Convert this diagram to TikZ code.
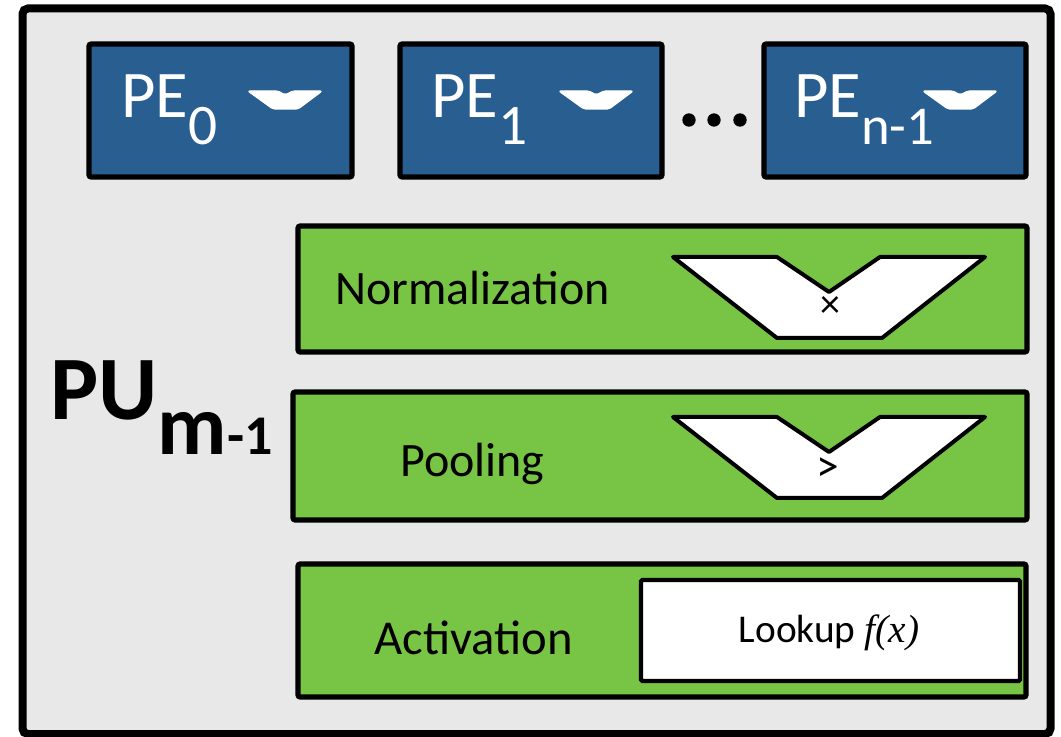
\documentclass[tikz,border=0pt]{standalone}
\usepackage{fontspec}
\setmainfont{Carlito}
\newfontfamily\fxfont{Liberation Serif}
\usetikzlibrary{fit}
\definecolor{peblue}{RGB}{41,94,145}
\definecolor{pugreen}{RGB}{120,196,69}
\definecolor{pugray}{RGB}{232,232,232}
\tikzset{
  outerbox/.style={draw=black, line width=6pt, fill=pugray, rounded corners=4pt, inner sep=0pt},
  pebox/.style={draw=black, line width=3.8pt, fill=peblue, rounded corners=1.5pt, inner sep=0pt},
  gbox/.style={draw=black, line width=3.8pt, fill=pugreen, rounded corners=1.5pt, inner sep=0pt},
  lkbox/.style={draw=black, line width=3.2pt, fill=white, rounded corners=1pt, inner sep=0pt},
  petxt/.style={text=white, inner sep=0pt, anchor=base west, font=\fontsize{50}{50}\selectfont},
  gtxt/.style={text=black, inner sep=0pt, anchor=base west, font=\fontsize{36}{36}\selectfont},
  chev/.style={fill=white, draw=white, line width=1pt, line join=round, rounded corners=1.5pt},
  alu/.style={fill=white, draw=black, line width=3pt, line join=round},
  dotmark/.style={circle, fill=black, inner sep=0pt, minimum size=10pt},
}
\newcommand\pechev[1]{%
  \path[chev] (#1+159,91) -- (#1+189,91) -- (#1+196,95) -- (#1+204,91) -- (#1+233,91)
    -- (#1+209,109) -- (#1+184,109) -- cycle;}
\begin{document}
\begin{tikzpicture}[x=0.75pt,y=-0.75pt]
\useasboundingbox (0,0) rectangle (1061,737);
\node[outerbox, fit={(22.5,8.5) (1050.5,734)}] (pu) {};

% PE boxes
\node[pebox, fit={(89,44) (352,177)}] (pe0) {};
\node[pebox, fit={(400,44) (662,177)}] (pe1) {};
\node[pebox, fit={(764,44) (1026,177)}] (pen) {};
\pechev{89}
\pechev{400}
\pechev{764}
\node[petxt] (pe0t) at (121,118) {PE\raisebox{-20pt}{\fontsize{43}{43}\selectfont 0}};
\node[petxt] (pe1t) at (431,118) {PE\raisebox{-20pt}{\fontsize{43}{43}\selectfont 1}};
\node[petxt] (pent) at (794,118) {PE\raisebox{-20pt}{\fontsize{41}{41}\selectfont n-1}};

% dots
\node[dotmark] (d1) at (689,120) {};
\node[dotmark] (d2) at (714,120) {};
\node[dotmark] (d3) at (740,120) {};

% PU label
\node[inner sep=0pt, anchor=base west, font=\bfseries] (pulab) at (50,420)
  {\fontsize{68}{68}\selectfont PU\raisebox{-26pt}{\fontsize{64}{64}\selectfont m\fontsize{42}{42}\selectfont -1}};

% Normalization
\node[gbox, fit={(298,226) (1027,352)}] (norm) {};
\node[gtxt] (normt) at (335,305) {Normalization};
\path[alu] (673,257) -- (777,257) -- (829,292) -- (880,257) -- (985,257)
  -- (882,338) -- (777,338) -- cycle;
\node[inner sep=0pt, font=\fontsize{30}{30}\selectfont] (mul) at (830,307) {×};

% Pooling
\node[gbox, fit={(293,392) (1027,520)}] (pool) {};
\node[gtxt] (poolt) at (400,477) {Pooling};
\path[alu] (673,417) -- (777,417) -- (829,452) -- (880,417) -- (985,417)
  -- (882,498) -- (777,498) -- cycle;
\node[inner sep=0pt, font=\fontsize{34}{34}\selectfont] (gt) at (828,470) {>};

% Activation
\node[gbox, fit={(298,564) (1026,697)}] (act) {};
\node[gtxt, font=\fontsize{36.5}{36.5}\selectfont] (actt) at (374,655) {Activation};
\node[lkbox, fit={(641,580) (1020,681)}] (lk) {};
\node[inner sep=0pt, anchor=base, font=\fontsize{29.5}{29.5}\selectfont] (lkt) at (829,643)
  {Lookup {\fxfont\itshape f(x)}};
\end{tikzpicture}
\end{document}
